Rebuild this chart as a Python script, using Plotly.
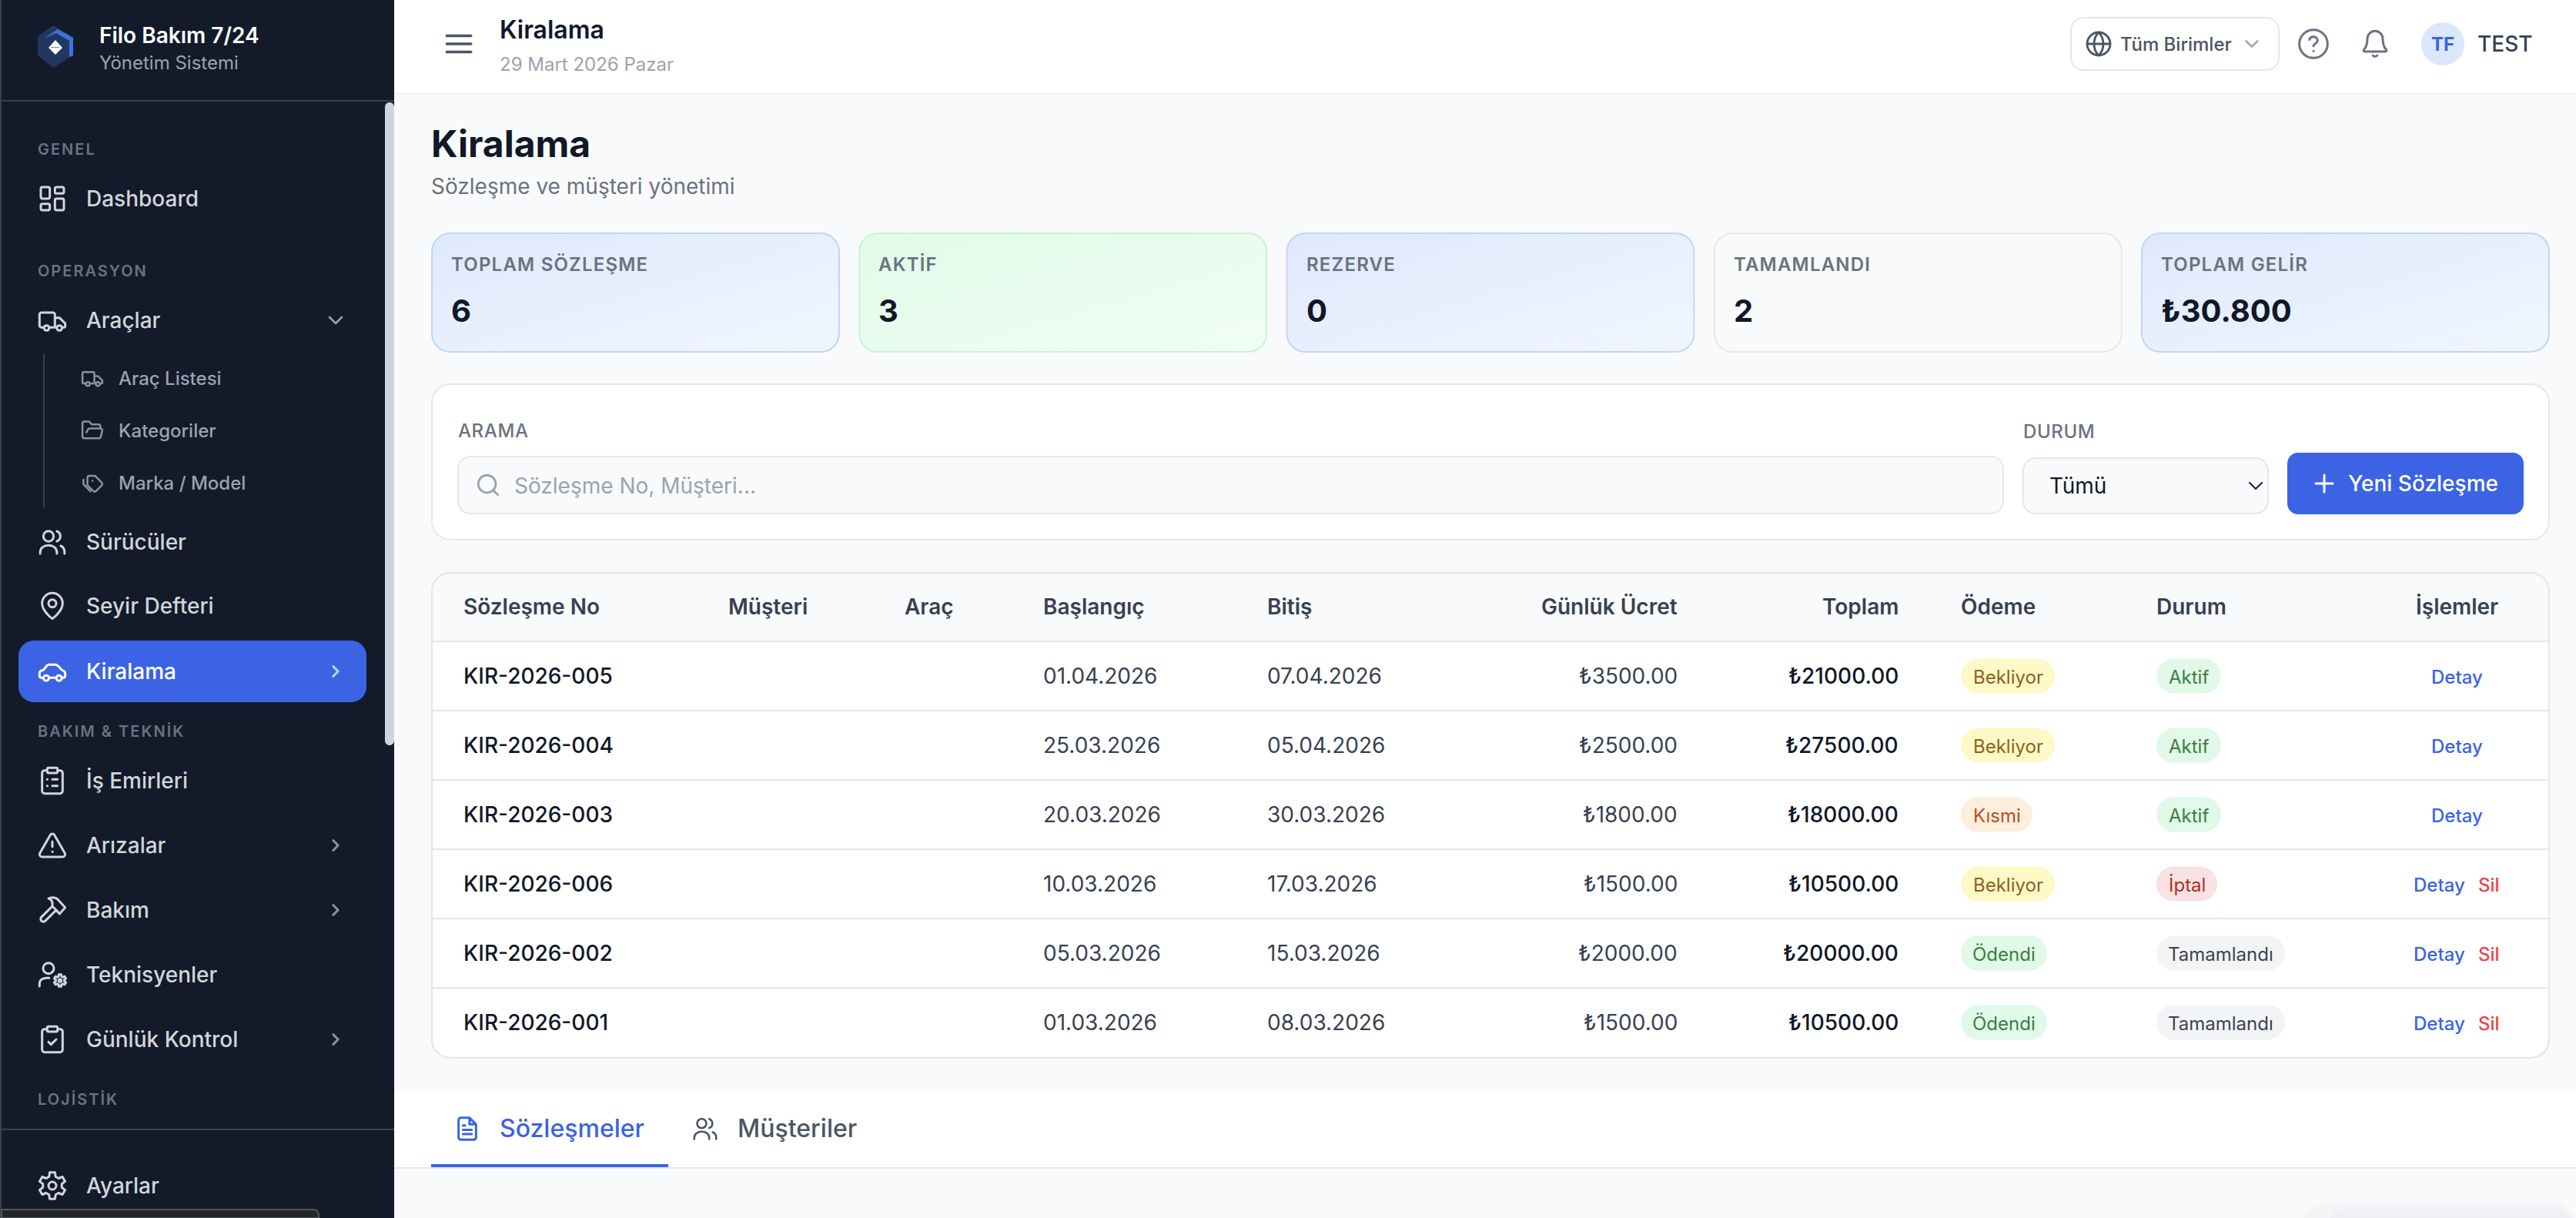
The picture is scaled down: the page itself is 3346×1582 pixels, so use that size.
import json
import math
import re
import plotly.graph_objects as go

# chart data
NAV_GROUPS = ["GENEL", "OPERASYON", "BAKIM & TEKNİK", "LOJİSTİK"]
NAV_ITEMS = ["Dashboard", "Araçlar", "Sürücüler", "Seyir Defteri", "Kiralama", "İş Emirleri",
             "Arızalar", "Bakım", "Teknisyenler", "Günlük Kontrol", "Ayarlar"]
SUB_ITEMS = ["Araç Listesi", "Kategoriler", "Marka / Model"]

KPI_LABELS = ["TOPLAM SÖZLEŞME", "AKTİF", "REZERVE", "TAMAMLANDI", "TOPLAM GELİR"]
KPI_VALUES = ["6", "3", "0", "2", "₺30.800"]

TABLE_COLUMNS = ["Sözleşme No", "Müşteri", "Araç", "Başlangıç", "Bitiş", "Günlük Ücret", "Toplam", "Ödeme", "Durum", "İşlemler"]
CONTRACT_NOS = ["KIR-2026-005", "KIR-2026-004", "KIR-2026-003", "KIR-2026-006", "KIR-2026-002", "KIR-2026-001"]
START_DATES = ["01.04.2026", "25.03.2026", "20.03.2026", "10.03.2026", "05.03.2026", "01.03.2026"]
END_DATES = ["07.04.2026", "05.04.2026", "30.03.2026", "17.03.2026", "15.03.2026", "08.03.2026"]
DAILY_FEES = [3500, 2500, 1800, 1500, 2000, 1500]
TOTALS = [21000, 27500, 18000, 10500, 20000, 10500]
PAYMENTS = ["Bekliyor", "Bekliyor", "Kısmi", "Bekliyor", "Ödendi", "Ödendi"]
STATUSES = ["Aktif", "Aktif", "Aktif", "İptal", "Tamamlandı", "Tamamlandı"]
CAN_DELETE = [False, False, False, True, True, True]

W, H = 3346, 1582
FONT = "Inter"
BLUE = "#3b63e4"
INK = "#111827"
SIDEBAR = "#131a29"
BORDER = "#e5e7eb"

# pill look, by label: background, text colour, width
PILLS = {
    "Bekliyor": ("#fef9c7", "#8f5f1c", 122),
    "Kısmi": ("#fdeedd", "#b4511f", 93),
    "Ödendi": ("#e0f9e8", "#3c7d42", 112),
    "Aktif": ("#e0f9e8", "#3c7d42", 84),
    "İptal": ("#f9e2e3", "#b32a2a", 79),
    "Tamamlandı": ("#f3f4f6", "#3b4352", 167),
}

shapes = []
annotations = []
images = []


def fmt(v):
    return f"{v:.2f}"


def rr(x0, y0, x1, y1, r):
    k = r * 0.4477
    return (f"M {fmt(x0 + r)} {fmt(y0)} L {fmt(x1 - r)} {fmt(y0)} "
            f"C {fmt(x1 - k)} {fmt(y0)} {fmt(x1)} {fmt(y0 + k)} {fmt(x1)} {fmt(y0 + r)} "
            f"L {fmt(x1)} {fmt(y1 - r)} C {fmt(x1)} {fmt(y1 - k)} {fmt(x1 - k)} {fmt(y1)} {fmt(x1 - r)} {fmt(y1)} "
            f"L {fmt(x0 + r)} {fmt(y1)} C {fmt(x0 + k)} {fmt(y1)} {fmt(x0)} {fmt(y1 - k)} {fmt(x0)} {fmt(y1 - r)} "
            f"L {fmt(x0)} {fmt(y0 + r)} C {fmt(x0)} {fmt(y0 + k)} {fmt(x0 + k)} {fmt(y0)} {fmt(x0 + r)} {fmt(y0)} Z ")


def circ(cx, cy, r):
    return rr(cx - r, cy - r, cx + r, cy + r, r)


def gear(cx, cy, outer, inner, teeth=6):
    pts = []
    for i in range(teeth):
        a = 2 * math.pi * i / teeth - math.pi / 2
        for da, rad in [(-0.34, inner), (-0.2, outer), (0.2, outer), (0.34, inner)]:
            pts.append((cx + rad * math.cos(a + da), cy + rad * math.sin(a + da)))
    return "M " + " L ".join(f"{fmt(x)} {fmt(y)}" for x, y in pts) + " Z "


def box(x0, y0, x1, y1, r=0, fill="rgba(0,0,0,0)", line=None, lw=0, layer="below"):
    shapes.append(dict(type="path", path=rr(x0, y0, x1, y1, r) if r else
                       f"M {x0} {y0} L {x1} {y0} L {x1} {y1} L {x0} {y1} Z",
                       fillcolor=fill, line=dict(color=line or "rgba(0,0,0,0)", width=lw),
                       xref="x", yref="y", layer=layer))


def raw(d, fill="rgba(0,0,0,0)", line=None, lw=0, layer="below"):
    shapes.append(dict(type="path", path=d, fillcolor=fill,
                       line=dict(color=line or "rgba(0,0,0,0)", width=lw),
                       xref="x", yref="y", layer=layer))


def icon(d, cx, cy, size, color, lw=3, fill="rgba(0,0,0,0)", layer="below"):
    s = size / 24
    out = []
    is_x = True
    for tok in re.findall(r"[MLCZ]|-?\d+\.?\d*", d):
        if tok in "MLCZ":
            out.append(tok)
            is_x = True
        else:
            base, c = (cx, float(tok) - 12) if is_x else (cy, float(tok) - 12)
            out.append(fmt(base + c * s))
            is_x = not is_x
    raw(" ".join(out), fill=fill, line=color, lw=lw, layer=layer)


def label(x, y, s, size, color, weight=400, anchor="left"):
    annotations.append(dict(x=x, y=y, xref="x", yref="y", text=s, showarrow=False,
                            xanchor=anchor, yanchor="middle", align=anchor,
                            borderpad=0, borderwidth=0,
                            font=dict(family=FONT, size=size, color=color, weight=weight)))


def chevron_right(cx, cy, color):
    icon("M 8 4 L 16 12 L 8 20", cx, cy, 19, color, lw=3)


def chevron_down(cx, cy, w, color, lw=2.5):
    icon("M 4 8 L 12 16 L 20 8", cx, cy, w, color, lw=lw)


TRUCK = ("M 5.5 17.5 L 3.5 17.5 C 2.7 17.5 2 16.8 2 16 L 2 7.5 C 2 6.7 2.7 6 3.5 6 L 12.5 6 C 13.3 6 14 6.7 14 7.5 L 14 17.5 L 9.5 17.5 "
         "M 14 10 L 17.5 10 L 22 14.5 L 22 16.5 C 22 17.1 21.6 17.5 21 17.5 L 20 17.5 M 14 17.5 L 15.5 17.5 "
         + circ(7.5, 18, 2) + circ(17.5, 18, 2))
USERS = (circ(9, 7.5, 4) + "M 2.5 21 L 2.5 20 C 2.5 16.5 5.5 14.5 9 14.5 C 12.5 14.5 15.5 16.5 15.5 20 L 15.5 21 "
         "M 15.5 3.6 C 17.2 4.2 18.2 5.7 18.2 7.5 C 18.2 9.3 17.2 10.8 15.5 11.4 M 18.5 15 C 20.5 15.8 21.5 17.5 21.5 20 L 21.5 21")
PIN = "M 12 22 C 12 22 4 16 4 10 C 4 5.6 7.6 2 12 2 C 16.4 2 20 5.6 20 10 C 20 16 12 22 12 22 Z " + circ(12, 10, 3)
CAR = ("M 5 17 L 3.5 17 C 2.6 17 2 16.4 2 15.5 L 2 13.5 C 2 12.2 3 11.4 5 11 L 7.5 7.8 C 8 7.2 8.7 6.8 9.5 6.8 L 14 6.8 "
       "C 15 6.8 15.8 7.2 16.5 7.9 L 19.5 11 C 21 11.4 22 12.3 22 13.5 L 22 15.5 C 22 16.4 21.4 17 20.5 17 L 19.5 17 M 9.5 17 L 15 17 "
       + circ(7.2, 17.2, 2.1) + circ(17.2, 17.2, 2.1))
CLIP_LIST = (rr(8, 2, 16, 6, 1) + "M 16 4 L 18 4 C 19.1 4 20 4.9 20 6 L 20 20 C 20 21.1 19.1 22 18 22 L 6 22 C 4.9 22 4 21.1 4 20 L 4 6 C 4 4.9 4.9 4 6 4 L 8 4 "
             "M 12 11 L 16 11 M 12 16 L 16 16 M 8 11 L 8.1 11 M 8 16 L 8.1 16")
CLIP_CHECK = (rr(8, 2, 16, 6, 1) + "M 16 4 L 18 4 C 19.1 4 20 4.9 20 6 L 20 20 C 20 21.1 19.1 22 18 22 L 6 22 C 4.9 22 4 21.1 4 20 L 4 6 C 4 4.9 4.9 4 6 4 L 8 4 "
              "M 9 14 L 11 16 L 15 12")
ALERT = ("M 10.3 4 L 2.3 18 C 1.6 19.4 2.5 21 4 21 L 20 21 C 21.5 21 22.4 19.4 21.7 18 L 13.7 4 C 13 2.7 11 2.7 10.3 4 Z "
         "M 12 9 L 12 13 M 12 17 L 12.1 17")
HAMMER = ("M 15 12 L 6.5 20.5 C 5.7 21.3 4.3 21.3 3.5 20.5 C 2.7 19.7 2.7 18.3 3.5 17.5 L 12 9 "
          "M 17.6 15 L 22 10 L 16.5 4 C 15 2.6 13 2 10.5 2.5 L 9 3 C 11 3.6 12 5 12 7 L 12 9 L 15 12 L 17.6 15 Z")
USER_COG = (circ(9, 7, 4.2) + "M 2 21 L 2 19 C 2 16.2 4.5 14.5 7.5 14.5 L 9.5 14.5 " + gear(18, 16.5, 4.8, 3.4) + circ(18, 16.5, 1))
GEAR = gear(12, 12, 10.5, 7.5) + circ(12, 12, 3)
DASH = rr(3, 3, 10, 12, 1.3) + rr(14, 3, 21, 8, 1.3) + rr(14, 12, 21, 21, 1.3) + rr(3, 16, 10, 21, 1.3)
FOLDER = ("M 6 14 L 7.5 11.1 C 7.8 10.4 8.5 10 9.3 10 L 20 10 C 21.3 10 22.3 11.3 21.9 12.5 L 20.4 18.5 C 20.2 19.4 19.4 20 18.4 20 L 4 20 "
          "C 2.9 20 2 19.1 2 18 L 2 5 C 2 3.9 2.9 3 4 3 L 7.9 3 C 8.6 3 9.2 3.3 9.6 3.9 L 10.4 5.1 C 10.8 5.7 11.4 6 12.1 6 L 18 6 C 19.1 6 20 6.9 20 8 L 20 10")
TAG = ("M 9 5 L 14.5 5 L 21.3 11.8 C 22.2 12.7 22.2 13.9 21.3 14.8 L 15.8 20.3 C 14.9 21.2 13.7 21.2 12.8 20.3 L 7 14.5 L 7 7 C 7 5.9 7.9 5 9 5 Z "
       "M 3 9 L 3 13.5 L 10 20.6 M 12 10 L 12.1 10")
GLOBE = circ(12, 12, 10) + "M 2 12 L 22 12 M 12 2 C 9 5 8 8.5 8 12 C 8 15.5 9 19 12 22 C 15 19 16 15.5 16 12 C 16 8.5 15 5 12 2 Z"
HELP = circ(12, 12, 10) + "M 9.1 9 C 9.6 7.5 10.7 6.8 12.1 6.9 C 13.8 7 15 8.2 14.9 9.7 C 14.8 11.5 12 12 12 13.5 M 12 17 L 12.1 17"
BELL = ("M 6 8 C 6 4.7 8.7 2 12 2 C 15.3 2 18 4.7 18 8 C 18 13 19 14.8 20.7 16.5 C 21.2 17.1 20.8 18 20 18 L 4 18 C 3.2 18 2.8 17.1 3.3 16.5 C 5 14.8 6 13 6 8 Z "
        "M 10.3 21 C 11 22 13 22 13.7 21")
SEARCH = circ(11, 11, 8) + "M 21 21 L 16.7 16.7"
DOC = ("M 14 2 L 6 2 C 4.9 2 4 2.9 4 4 L 4 20 C 4 21.1 4.9 22 6 22 L 18 22 C 19.1 22 20 21.1 20 20 L 20 8 Z "
       "M 14 2 L 14 8 L 20 8 M 8 13 L 16 13 M 8 17 L 16 17 M 8 9 L 10 9")

# page frame
box(512, 0, W, 120, fill="#ffffff")
box(512, 120, W, 123, fill="#f1f2f4")
box(0, 0, 512, H, fill=SIDEBAR)
box(0, 0, 2, H, fill="#3a404c")

# sidebar header
raw("M 69 33 L 95 48 L 95 72 L 69 88 L 49 72 L 49 47 Z", fill="#21375f")
raw("M 57 50 L 75 38 L 95 49 L 95 72 L 90 74 L 90 53 L 73 43 Z", fill="#3f72dc")
raw("M 72 52 L 81 62 L 72 71 L 63 62 Z", fill="#ffffff")
raw("M 66 61 L 77 61 L 77 62 L 66 62 Z", fill="#5b86e6")
label(129, 46, "Filo Bakım 7/24", 28, "#ffffff", 600)
label(129, 81, "Yönetim Sistemi", 24, "#9ca3af")
box(2, 130, 512, 132, fill="#374151")
box(2, 1466, 512, 1468, fill="#374151")
box(500, 133, 512, 968, r=6, fill="#ced4e0")

# sidebar nav
for name, y in zip(NAV_GROUPS, [194, 352, 950, 1428]):
    label(49, y, name, 20, "#6b7280", 600)

box(24, 832, 476, 912, r=20, fill=BLUE)
box(56, 460, 58, 659, fill="#374151")

nav_y = [258, 416, 704, 787, 872, 1014, 1098, 1182, 1266, 1350, 1540]
nav_icons = [DASH, TRUCK, USERS, PIN, CAR, CLIP_LIST, ALERT, HAMMER, USER_COG, CLIP_CHECK, GEAR]
nav_chevrons = {"Kiralama", "Arızalar", "Bakım", "Günlük Kontrol"}
for name, y, ic in zip(NAV_ITEMS, nav_y, nav_icons):
    active = name == "Kiralama"
    col = "#ffffff" if active else "#d1d5db"
    icon(ic, 68, y, 40, col, lw=3)
    label(112, y, name, 28, col, 500)
    if name in nav_chevrons:
        chevron_right(436, y, "#c3d0f6" if active else "#8b9099")
chevron_down(436, 416, 24, "#9ca3af")

for name, y, ic in zip(SUB_ITEMS, [491, 559, 627], [TRUCK, FOLDER, TAG]):
    icon(ic, 120, y, 31, "#8b919c", lw=2.5)
    label(154, y, name, 24, "#9ca3af", 500)

# browser status bubble, bottom left
raw("M 2 1582 L 2 1571 L 406 1571 C 411 1571 414 1574 414 1579 L 414 1582 Z", fill="#23272a", line="#55585c", lw=2)

# top bar
icon("M 3 6 L 21 6 M 3 12 L 21 12 M 3 18 L 21 18", 596, 57, 42, "#4b5563", lw=3.5)
label(649, 38, "Kiralama", 32, INK, 600)
label(649, 83, "29 Mart 2026 Pazar", 24, "#9ca3af")
box(2690, 23, 2960, 91, r=16, fill="#ffffff", line=BORDER, lw=2)
icon(GLOBE, 2726, 57, 36, "#4b5563", lw=2.8)
label(2754, 57, "Tüm Birimler", 24, "#4b5563", 500)
chevron_down(2925, 57, 22, "#9ca3af")
icon(HELP, 3005, 57, 44, "#6b7280", lw=3)
icon(BELL, 3085, 57, 40, "#6b7280", lw=3)
box(3145, 29, 3201, 85, r=28, fill="#dbe7fb")
label(3173, 57, "TF", 24, BLUE, 700, anchor="center")
label(3218, 57, "TEST", 28, "#374151", 500)

# page heading
label(560, 186, "Kiralama", 48, INK, 700)
label(560, 242, "Sözleşme ve müşteri yönetimi", 28, "#6b7280")


# KPI cards, tints drawn as gradient images
def card_image(x, y, w, h, c0, c1, stroke):
    svg = (f'<svg xmlns="http://www.w3.org/2000/svg" width="{w}" height="{h}" viewBox="0 0 {w} {h}">'
           f'<defs><linearGradient id="g" x1="0" y1="0" x2="1" y2="1"><stop offset="0" stop-color="{c0}"/>'
           f'<stop offset="1" stop-color="{c1}"/></linearGradient></defs>'
           f'<rect x="1" y="1" width="{w - 2}" height="{h - 2}" rx="24" ry="24" fill="url(#g)" stroke="{stroke}" stroke-width="2"/></svg>')
    images.append(dict(source="data:image/svg+xml;utf8," + svg.replace("#", "%23"), xref="x", yref="y",
                       x=x, y=y, sizex=w, sizey=h, sizing="stretch", xanchor="left", yanchor="top", layer="above"))


card_styles = [("#dfe9fc", "#f0f6ff", "#bfd5fb"), ("#e0fbe8", "#f1fdf5", "#c4f5d4"), ("#dfe9fc", "#f0f6ff", "#bfd5fb"),
               ("#f9fafb", "#f9fafb", BORDER), ("#dfe9fc", "#f0f6ff", "#bfd5fb")]
for i, (lab, val, st) in enumerate(zip(KPI_LABELS, KPI_VALUES, card_styles)):
    x = 560 + i * 555.25
    card_image(x, 302, 531, 156, *st)
    label(x + 26, 343, lab, 24, "#6b7280", 600)
    label(x + 26, 403, val, 40, INK, 700)

# filter panel
box(561, 499, 3311, 701, r=24, fill="#ffffff", line=BORDER, lw=2)
label(595, 559, "ARAMA", 24, "#6b7280", 500)
box(595, 593, 2602, 667, r=16, fill="#f9fafb", line=BORDER, lw=2)
icon(SEARCH, 634, 630, 34, "#9ca3af", lw=2.8)
label(668, 631, "Sözleşme No, Müşteri...", 28, "#9ca3af")
label(2628, 560, "DURUM", 24, "#6b7280", 500)
box(2628, 595, 2946, 667, r=16, fill="#f9fafb", line=BORDER, lw=2)
label(2662, 631, "Tümü", 28, INK)
chevron_down(2930, 631, 24, "#1f2937", lw=2.2)
box(2971, 588, 3278, 668, r=14, fill=BLUE)
icon("M 12 4 L 12 20 M 4 12 L 20 12", 3019, 628, 33, "#ffffff", lw=3)
label(3050, 628, "Yeni Sözleşme", 28, "#ffffff", 500)

# table frame
box(561, 744, 3311, 1374, r=24, fill="#ffffff")
raw("M 561 833 L 561 768 C 561 754 572 744 585 744 L 3287 744 C 3300 744 3311 754 3311 768 L 3311 833 Z", fill="#f9fafb")
for k in range(6):
    box(562, 832 + k * 90, 3310, 834 + k * 90, fill=BORDER)
box(561, 744, 3311, 1374, r=24, line=BORDER, lw=2.4)

col_x = [602, 946, 1175, 1355, 1646, 2179, 2466, 2547, 2801, 3191]
col_anchor = ["left", "left", "left", "left", "left", "right", "right", "left", "left", "center"]
for name, x, a in zip(TABLE_COLUMNS, col_x, col_anchor):
    label(x, 788, name, 28, "#374151", 600, anchor=a)

for i in range(len(CONTRACT_NOS)):
    y = 878 + i * 90
    label(col_x[0], y, CONTRACT_NOS[i], 28, INK, 500)
    label(col_x[3], y, START_DATES[i], 28, "#374151")
    label(col_x[4], y, END_DATES[i], 28, "#374151")
    label(col_x[5], y, f"₺{DAILY_FEES[i]:.2f}", 28, "#374151", anchor="right")
    label(col_x[6], y, f"₺{TOTALS[i]:.2f}", 28, INK, 500, anchor="right")
    for val, x in ((PAYMENTS[i], col_x[7]), (STATUSES[i], col_x[8])):
        bg, fg, w = PILLS[val]
        box(x, y - 22.5, x + w, y + 22.5, r=22.5, fill=bg)
        label(x + w / 2, y + 1, val, 24, fg, 400, anchor="center")
    if CAN_DELETE[i]:
        label(3135, y + 1, "Detay", 24, BLUE, 500)
        label(3219, y + 1, "Sil", 24, "#ef4444", 500)
    else:
        label(3191, y + 1, "Detay", 24, BLUE, 500, anchor="center")

# tabs
box(512, 1416, W, 1516, fill="#ffffff")
box(512, 1516, W, 1518, fill=BORDER)
box(560, 1512, 868, 1516, fill=BLUE)
icon(DOC, 607, 1466, 34, BLUE, lw=3)
label(649, 1465, "Sözleşmeler", 32, BLUE, 500)
icon(USERS, 916, 1466, 36, "#4b5563", lw=2.6)
label(958, 1465, "Müşteriler", 32, "#4b5563", 500)

# faint toast shadow, lower right corner
box(2990, 1562, 3346, 1620, r=30, fill="rgba(209,213,219,0.12)")
box(3020, 1570, 3346, 1620, r=30, fill="rgba(209,213,219,0.14)")

fig = go.Figure()
fig.update_layout(
    width=W, height=H, autosize=False,
    margin=dict(l=0, r=0, t=0, b=0, pad=0),
    paper_bgcolor="#f9fafb", plot_bgcolor="#f9fafb",
    showlegend=False, hovermode=False,
    xaxis=dict(range=[0, W], visible=False, fixedrange=True),
    yaxis=dict(range=[H, 0], visible=False, fixedrange=True),
    shapes=shapes, annotations=annotations, images=images,
)

SPACING = {name: "2px" for name in NAV_GROUPS}
SPACING.update({name: "1.2px" for name in KPI_LABELS})
SPACING.update({"ARAMA": "0.6px", "DURUM": "0.6px"})
post = """
document.body.style.margin = '0';
document.body.style.overflow = 'hidden';
var spacing = %s;
document.querySelectorAll('.annotation-text').forEach(function (t) {
  if (spacing[t.textContent]) t.style.letterSpacing = spacing[t.textContent];
});
document.querySelectorAll('.shapelayer path').forEach(function (p) {
  p.style.strokeLinecap = 'round';
  p.style.strokeLinejoin = 'round';
});
""" % json.dumps(SPACING, ensure_ascii=False)

fig.write_html("out.html", config=dict(displayModeBar=False), post_script=post)
